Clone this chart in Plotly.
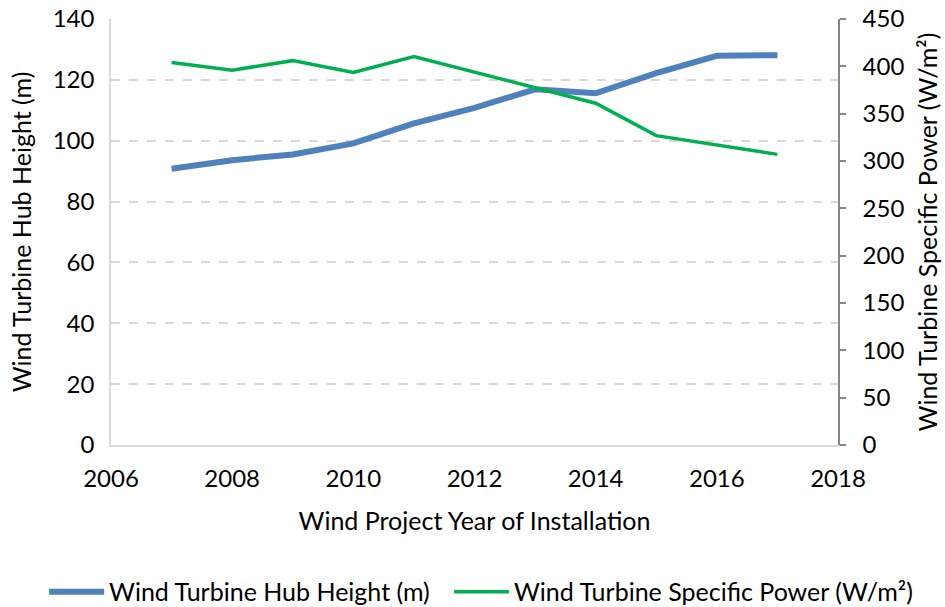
import plotly.graph_objects as go

years = [2007, 2008, 2009, 2010, 2011, 2012, 2013, 2014, 2015, 2016, 2017]
hub_height = [90.8, 93.6, 95.5, 99.1, 105.7, 110.8, 116.9, 115.6, 122.2, 127.9, 128.1]
specific_power = [404, 396, 406, 393.5, 410.4, 394, 377, 361, 326.8, 317, 307]

FONT = "Lato, Carlito, Calibri, sans-serif"
FS = 25
TFS = 24

fig = go.Figure()
fig.add_trace(go.Scatter(
    x=years, y=hub_height, mode="lines",
    name="Wind Turbine Hub Height (m)",
    line=dict(color="#4f81bd", width=6),
    legend="legend",
))
fig.add_trace(go.Scatter(
    x=years, y=specific_power, mode="lines",
    name="Wind Turbine Specific Power (W/m²)",
    line=dict(color="#00b050", width=3.5),
    yaxis="y2",
    legend="legend2",
))

fig.update_layout(
    width=945, height=607,
    margin=dict(l=111, r=107, t=19, b=162, autoexpand=False),
    paper_bgcolor="white", plot_bgcolor="white",
    font=dict(family=FONT, size=FS, color="black"),
    showlegend=True,
    legend=dict(orientation="h", x=-0.092, xanchor="left", y=-0.345, yanchor="middle",
                font=dict(size=FS), itemwidth=55, bgcolor="rgba(0,0,0,0)", borderwidth=0),
    legend2=dict(orientation="h", x=0.465, xanchor="left", y=-0.345, yanchor="middle",
                 font=dict(size=FS), itemwidth=55, bgcolor="rgba(0,0,0,0)", borderwidth=0),
    xaxis=dict(
        range=[2006, 2018], dtick=2, tick0=2006, automargin=False,
        showgrid=False, showline=True, linecolor="#d9d9d9", linewidth=1.5,
        ticks="", zeroline=False, ticklabelstandoff=11, ticklabeloverflow="allow",
        tickfont=dict(size=TFS),
        title=dict(text="Wind Project Year of Installation", standoff=22, font=dict(size=FS)),
    ),
    yaxis=dict(
        range=[0, 140], dtick=20, automargin=False,
        showgrid=True, gridcolor="#d9d9d9", griddash="dash", gridwidth=1.5,
        showline=True, linecolor="#d9d9d9", linewidth=1.5,
        ticks="", zeroline=False, ticklabelstandoff=10, ticklabeloverflow="allow",
        tickfont=dict(size=TFS),
        title=dict(text="Wind Turbine Hub Height (m)", standoff=14, font=dict(size=FS)),
    ),
    yaxis2=dict(
        range=[0, 450], dtick=50, overlaying="y", side="right", automargin=False,
        showgrid=False, showline=True, linecolor="#868686", linewidth=1.5,
        ticks="outside", ticklen=6, tickcolor="#868686", tickwidth=1.5, zeroline=False,
        ticklabelstandoff=12, ticklabeloverflow="allow",
        tickfont=dict(size=TFS),
        title=dict(text="Wind Turbine Specific Power (W/m²)", standoff=16, font=dict(size=FS)),
    ),
)

fig.write_html("out.html", config={"displayModeBar": False},
               post_script="document.body.style.margin='0px';")
